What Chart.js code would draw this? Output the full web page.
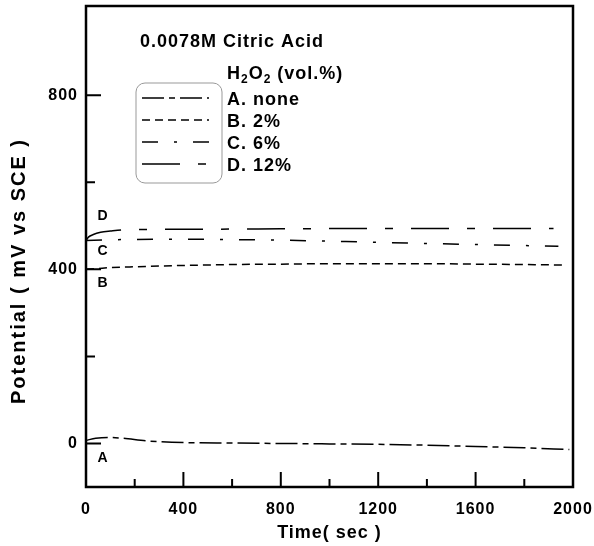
<!doctype html>
<html lang="en">
  <head>
    <meta charset="utf-8">
    <title>Potential vs time, 0.0078M citric acid</title>
    <style>
      * { margin: 0; padding: 0; }
      body { background: white; }
      .chartBox { width: 594px; height: 546px; }
    </style>
  </head>
  <body>
    <div class="chartBox"><canvas id="myChart" width="594" height="546"></canvas></div>
    <script src="https://cdn.jsdelivr.net/npm/chart.js/dist/chart.umd.min.js"></script>
    <script>
// data
const timeA = [0, 40, 90, 150, 250, 400, 600, 800, 1000, 1200, 1400, 1600, 1800, 1985];
const potA  = [7, 12, 14, 12, 6, 2, 1, 0, -1, -2, -4, -7, -10, -14];
const timeB = [0, 50, 100, 200, 400, 600, 800, 1000, 1200, 1400, 1600, 1800, 1960];
const potB  = [400, 402, 404, 406, 409, 411, 412, 413, 413, 413, 412, 411, 410];
const timeC = [0, 100, 400, 800, 1200, 1600, 1940];
const potC  = [466, 468, 469, 467, 462, 457, 453];
const timeD = [0, 10, 30, 60, 100, 160, 400, 800, 1200, 1600, 1920];
const potD  = [466, 474, 480, 485, 488, 491, 492, 493, 494, 494, 494];

const legendLabels = ['A. none', 'B. 2%', 'C. 6%', 'D. 12%'];
const curveTags = ['A', 'B', 'C', 'D'];
const tagTime = [70, 70, 70, 70];
const tagPot = [-33, 369, 441, 523];

const xTicks = [0, 400, 800, 1200, 1600, 2000];
const xMinor = [200, 600, 1000, 1400, 1800];
const yTicks = [0, 400, 800];
const yMinor = [200, 600];

const dashes = [[22, 5, 6, 5], [8, 5], [16, 16, 3, 16], [38, 18, 8, 18]];
const FONT = '"Liberation Sans", Arial, sans-serif';

function pts(t, v) {
  return t.map((x, i) => ({ x: x, y: v[i] }));
}

const series = [pts(timeA, potA), pts(timeB, potB), pts(timeC, potC), pts(timeD, potD)];

const data = {
  datasets: series.map((s, i) => ({
    label: legendLabels[i],
    data: s,
    borderColor: '#000',
    borderWidth: 1.5,
    borderDash: dashes[i],
    pointRadius: 0,
    cubicInterpolationMode: 'monotone',
    fill: false
  }))
};

// frame, inward ticks, legend, curve tags, y title
const decorations = {
  id: 'decorations',
  beforeDraw(chart) {
    chart.ctx.letterSpacing = '1px';
  },
  afterDraw(chart) {
    const { ctx, chartArea: { left, right, top, bottom }, scales: { x, y } } = chart;
    ctx.save();
    ctx.strokeStyle = '#000';
    ctx.lineWidth = 2.5;
    ctx.strokeRect(left, top, right - left, bottom - top);

    ctx.lineWidth = 2;
    ctx.beginPath();
    xTicks.concat(xMinor).forEach(v => {
      const px = x.getPixelForValue(v);
      const len = xTicks.includes(v) ? 15 : 8;
      ctx.moveTo(px, bottom);
      ctx.lineTo(px, bottom - len);
    });
    yTicks.concat(yMinor).forEach(v => {
      const py = y.getPixelForValue(v);
      const len = yTicks.includes(v) ? 15 : 9;
      ctx.moveTo(left, py);
      ctx.lineTo(left + len, py);
    });
    ctx.stroke();

    // curve tags
    ctx.fillStyle = '#000';
    ctx.font = 'bold 14px ' + FONT;
    ctx.textAlign = 'center';
    ctx.textBaseline = 'middle';
    curveTags.forEach((t, i) => {
      ctx.fillText(t, x.getPixelForValue(tagTime[i]), y.getPixelForValue(tagPot[i]));
    });

    // y axis title
    ctx.save();
    ctx.translate(19, 271);
    ctx.rotate(-Math.PI / 2);
    ctx.letterSpacing = '2px';
    ctx.font = 'bold 20px ' + FONT;
    ctx.fillText('Potential ( mV vs SCE )', 0, 0);
    ctx.restore();

    // header text
    ctx.textAlign = 'left';
    ctx.textBaseline = 'alphabetic';
    ctx.font = 'bold 18px ' + FONT;
    ctx.fillText('0.0078M Citric Acid', left + 54, top + 41);

    // legend heading H2O2 (vol.%)
    let hx = left + 141;
    const hy = top + 73;
    const parts = [['H', 18, 0], ['2', 12, 4], ['O', 18, 0], ['2', 12, 4], [' (vol.%)', 18, 0]];
    parts.forEach(p => {
      ctx.font = 'bold ' + p[1] + 'px ' + FONT;
      ctx.fillText(p[0], hx, hy + p[2]);
      hx += ctx.measureText(p[0]).width;
    });

    // legend box
    ctx.strokeStyle = '#999';
    ctx.lineWidth = 1;
    ctx.beginPath();
    ctx.roundRect(left + 50, top + 77, 86, 100, 9);
    ctx.stroke();

    ctx.strokeStyle = '#000';
    ctx.lineWidth = 1.5;
    ctx.font = 'bold 18px ' + FONT;
    legendLabels.forEach((lab, i) => {
      const ly = top + 92 + i * 22;
      ctx.setLineDash(dashes[i]);
      ctx.beginPath();
      ctx.moveTo(left + 56, ly);
      ctx.lineTo(left + 123, ly);
      ctx.stroke();
      ctx.fillText(lab, left + 141, ly + 7);
    });
    ctx.setLineDash([]);
    ctx.restore();
  }
};

const config = {
  type: 'line',
  data,
  options: {
    responsive: false,
    animation: false,
    layout: { padding: { top: 6, right: 21, left: 0, bottom: 0 } },
    plugins: { legend: { display: false }, tooltip: { enabled: false } },
    scales: {
      x: {
        type: 'linear',
        min: 0,
        max: 2000,
        afterBuildTicks: s => { s.ticks = xTicks.map(v => ({ value: v })); },
        afterFit: s => { s.height = 59; s.paddingLeft = 0; s.paddingRight = 0; },
        grid: { display: false, drawTicks: false },
        border: { display: false },
        ticks: { color: '#000', padding: 13, maxRotation: 0, callback: v => String(v), font: { family: FONT, size: 16, weight: 'bold' } },
        title: { display: true, text: 'Time( sec )', color: '#000', padding: { top: 0, bottom: 2 }, font: { family: FONT, size: 18, weight: 'bold' } }
      },
      y: {
        min: -100,
        max: 1005,
        afterBuildTicks: s => { s.ticks = yTicks.map(v => ({ value: v })); },
        afterFit: s => { s.width = 86; s.paddingTop = 0; s.paddingBottom = 0; },
        grid: { display: false, drawTicks: false },
        border: { display: false },
        ticks: { color: '#000', padding: 8, callback: v => String(v), font: { family: FONT, size: 16, weight: 'bold' } },
        title: { display: false }
      }
    }
  },
  plugins: [decorations]
};

const myChart = new Chart(document.getElementById('myChart'), config);
    </script>
  </body>
</html>
